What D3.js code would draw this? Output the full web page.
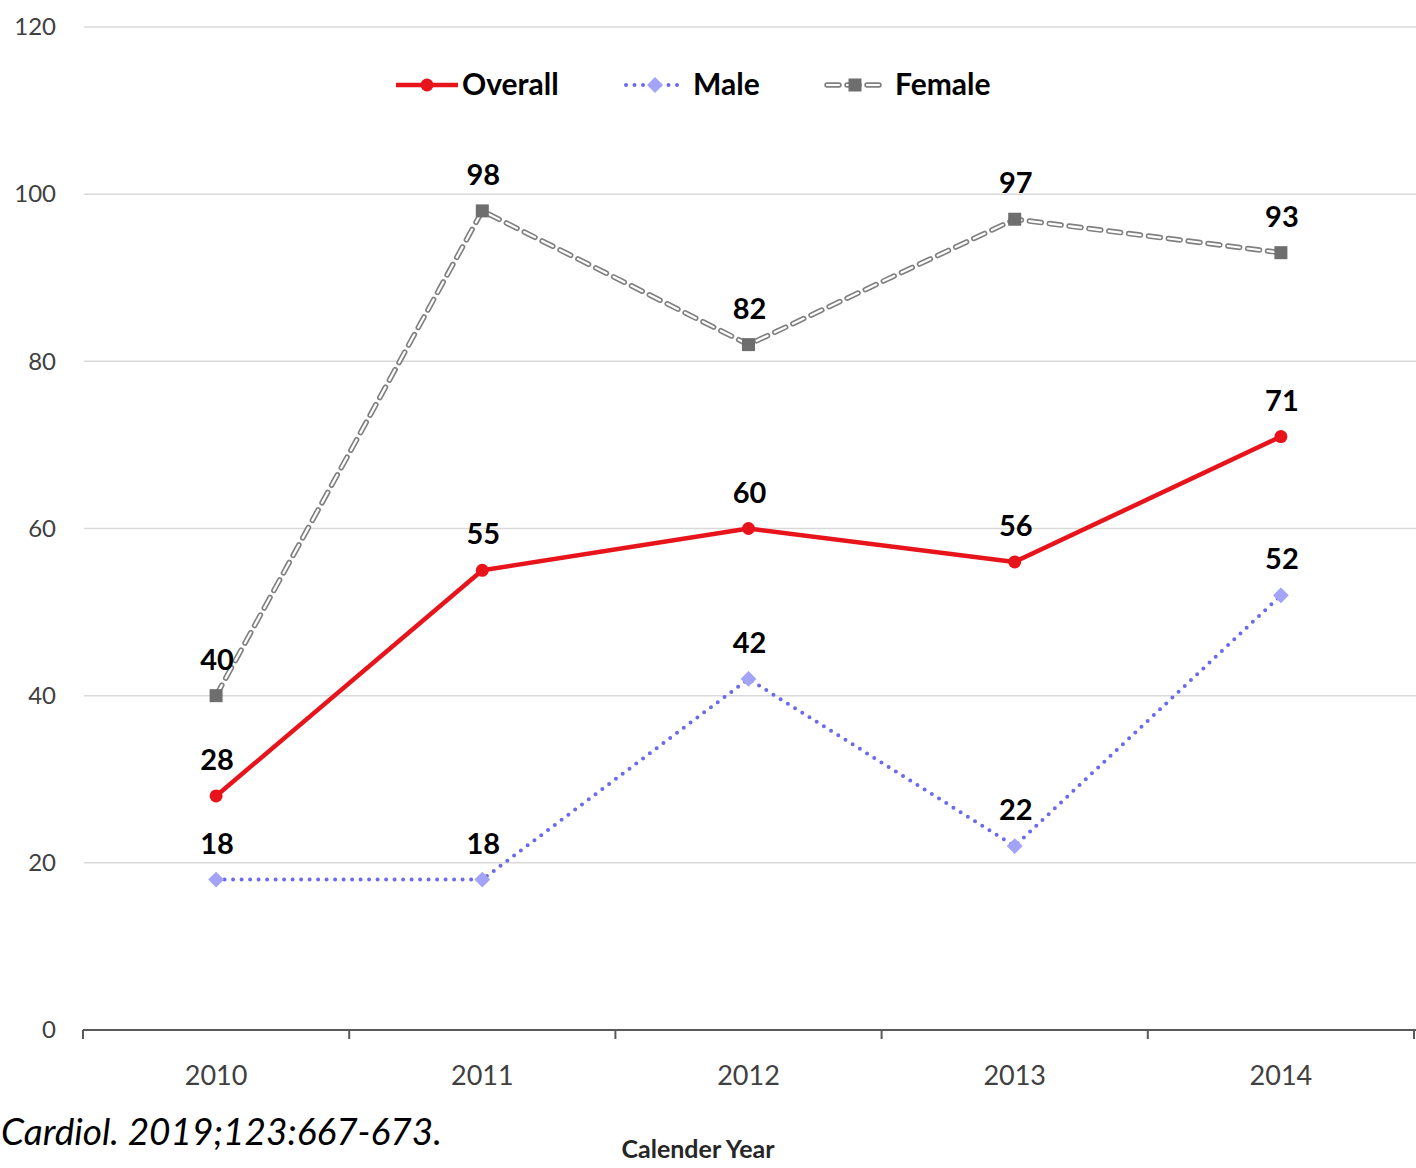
<!DOCTYPE html>
<html>
<head>
<meta charset="utf-8">
<script src="https://cdn.jsdelivr.net/npm/d3@7"></script>
<style>
  html, body { margin: 0; padding: 0; background: #fff; overflow: hidden; }
  svg { display: block; }
</style>
</head>
<body>
<svg id="chart" width="1416" height="1168"></svg>
<script>
// Yearly values per group
const years = ["2010", "2011", "2012", "2013", "2014"];
const overall = [28, 55, 60, 56, 71];
const male = [18, 18, 42, 22, 52];
const female = [40, 98, 82, 97, 93];
const yTicks = [0, 20, 40, 60, 80, 100, 120];
const seriesNames = ["Overall", "Male", "Female"];
const xTitle = "Calender Year";
const citation = "Cardiol. 2019;123:667-673.";

const FONT = "Lato, 'Open Sans', sans-serif";
const svg = d3.select("#chart");

const x = d3.scaleBand().domain(years).range([83, 1414]);
const cx = d => x(d) + x.bandwidth() / 2;
const y = d3.scaleLinear().domain([0, 120]).range([1030, 27]);

// Horizontal gridlines
svg.append("g")
  .selectAll("line")
  .data(yTicks.filter(t => t > 0))
  .join("line")
  .attr("x1", 84).attr("x2", 1416)
  .attr("y1", d => y(d)).attr("y2", d => y(d))
  .attr("stroke", "#d9d9d9").attr("stroke-width", 1.5);

// Y axis labels
const yAxis = d3.axisLeft(y).tickValues(yTicks).tickSize(0).tickPadding(0);
const gy = svg.append("g").attr("transform", "translate(56,0)").call(yAxis);
gy.select(".domain").remove();
gy.selectAll("text")
  .attr("font-family", FONT).attr("font-size", 24).attr("fill", "#404040");

// X axis: baseline with ticks on category boundaries, labels centred
const gx = svg.append("g").attr("transform", `translate(0,${y(0)})`);
gx.append("line")
  .attr("x1", 83).attr("x2", 1416)
  .attr("stroke", "#595959").attr("stroke-width", 2);
const edges = years.map(d => x(d)).concat([x(years[years.length - 1]) + x.bandwidth()]);
gx.selectAll("line.edge")
  .data(edges)
  .join("line")
  .attr("class", "edge")
  .attr("x1", d => d).attr("x2", d => d)
  .attr("y1", 0).attr("y2", 9)
  .attr("stroke", "#595959").attr("stroke-width", 2);
gx.selectAll("text")
  .data(years)
  .join("text")
  .attr("x", d => cx(d))
  .attr("y", 55)
  .attr("text-anchor", "middle")
  .attr("font-family", FONT).attr("font-size", 27).attr("fill", "#404040")
  .text(d => d);

// Axis title
svg.append("text")
  .attr("x", 698).attr("y", 1158)
  .attr("text-anchor", "middle")
  .attr("font-family", FONT).attr("font-size", 25).attr("font-weight", 700)
  .attr("fill", "#262626")
  .text(xTitle);

// Citation fragment
svg.append("text")
  .attr("x", 1).attr("y", 1145)
  .attr("font-family", FONT).attr("font-size", 37).attr("font-style", "italic")
  .attr("fill", "#000")
  .text(citation);

const line = d3.line().x((d, i) => cx(years[i])).y(d => y(d));

// Female: outlined dashes (grey dash with white core)
const gF = svg.append("g");
gF.append("path").datum(female).attr("d", line)
  .attr("fill", "none").attr("stroke", "#808080").attr("stroke-width", 5.5)
  .attr("stroke-dasharray", "12 8").attr("stroke-linecap", "round");
gF.append("path").datum(female).attr("d", line)
  .attr("fill", "none").attr("stroke", "#fff").attr("stroke-width", 2.2)
  .attr("stroke-dasharray", "12 8").attr("stroke-linecap", "round");
gF.selectAll("rect").data(female).join("rect")
  .attr("x", (d, i) => cx(years[i]) - 6.5).attr("y", d => y(d) - 6.5)
  .attr("width", 13).attr("height", 13)
  .attr("fill", "#6e6e6e");

// Male: dotted line with diamonds
const gM = svg.append("g");
gM.append("path").datum(male).attr("d", line)
  .attr("fill", "none").attr("stroke", "#6a6aee").attr("stroke-width", 4)
  .attr("stroke-dasharray", "0 8.5").attr("stroke-linecap", "round");
gM.selectAll("path.mk").data(male).join("path")
  .attr("class", "mk")
  .attr("d", d3.symbol(d3.symbolDiamond2, 160))
  .attr("transform", (d, i) => `translate(${cx(years[i])},${y(d)})`)
  .attr("fill", "#a3a3f7");

// Overall: solid red with circles
const gO = svg.append("g");
gO.append("path").datum(overall).attr("d", line)
  .attr("fill", "none").attr("stroke", "#e8141b").attr("stroke-width", 4.5)
  .attr("stroke-linejoin", "round");
gO.selectAll("circle").data(overall).join("circle")
  .attr("cx", (d, i) => cx(years[i])).attr("cy", d => y(d))
  .attr("r", 6.5).attr("fill", "#e8141b");

// Value labels above each point
const labelSets = [overall, male, female];
labelSets.forEach(vals => {
  svg.append("g").selectAll("text").data(vals).join("text")
    .attr("x", (d, i) => cx(years[i]) + 1)
    .attr("y", d => y(d) - 26)
    .attr("text-anchor", "middle")
    .attr("font-family", FONT).attr("font-size", 29).attr("font-weight", 700)
    .attr("fill", "#000")
    .text(d => d);
});

// Legend
const legend = svg.append("g").attr("transform", "translate(0,85)");
const lg = [
  { x0: 396, x1: 458, tx: 462 },
  { x0: 624, x1: 686, tx: 693 },
  { x0: 824, x1: 886, tx: 895 }
];
// Overall key
legend.append("line").attr("x1", lg[0].x0).attr("x2", lg[0].x1)
  .attr("stroke", "#e8141b").attr("stroke-width", 4.5);
legend.append("circle").attr("cx", (lg[0].x0 + lg[0].x1) / 2).attr("r", 6.5).attr("fill", "#e8141b");
// Male key
legend.append("line").attr("x1", lg[1].x0 + 2).attr("x2", lg[1].x1 - 2)
  .attr("stroke", "#6a6aee").attr("stroke-width", 4)
  .attr("stroke-dasharray", "0 8.5").attr("stroke-linecap", "round");
legend.append("path").attr("d", d3.symbol(d3.symbolDiamond2, 160))
  .attr("transform", `translate(${(lg[1].x0 + lg[1].x1) / 2},0)`).attr("fill", "#a3a3f7");
// Female key
legend.append("line").attr("x1", lg[2].x0 + 3).attr("x2", lg[2].x1 - 3)
  .attr("stroke", "#808080").attr("stroke-width", 5.5)
  .attr("stroke-dasharray", "12 8").attr("stroke-linecap", "round");
legend.append("line").attr("x1", lg[2].x0 + 3).attr("x2", lg[2].x1 - 3)
  .attr("stroke", "#fff").attr("stroke-width", 2.2)
  .attr("stroke-dasharray", "12 8").attr("stroke-linecap", "round");
legend.append("rect").attr("x", (lg[2].x0 + lg[2].x1) / 2 - 6.5).attr("y", -6.5)
  .attr("width", 13).attr("height", 13).attr("fill", "#6e6e6e");

legend.selectAll("text.lab").data(seriesNames).join("text")
  .attr("class", "lab")
  .attr("x", (d, i) => lg[i].tx)
  .attr("y", 10)
  .attr("font-family", FONT).attr("font-size", 30).attr("font-weight", 700)
  .attr("fill", "#000")
  .text(d => d);
</script>
</body>
</html>
